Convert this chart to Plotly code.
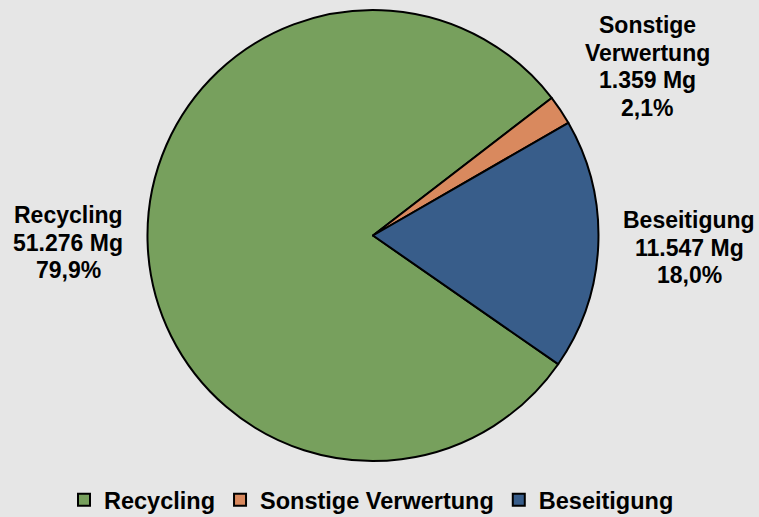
import plotly.graph_objects as go

labels = ["Recycling", "Sonstige Verwertung", "Beseitigung"]
values = [51276, 1359, 11547]
colors = ["#77A05D", "#D9895E", "#385D8A"]

total = sum(values)

def de_num(v):
    return f"{v:,}".replace(",", ".")

def de_pct(v):
    return f"{v * 100 / total:.1f}".replace(".", ",") + "%"

fig = go.Figure(go.Pie(
    labels=labels,
    values=values,
    sort=False,
    direction="clockwise",
    rotation=124.8,
    marker=dict(colors=colors, line=dict(color="black", width=2)),
    textinfo="none",
    hoverinfo="label+value+percent",
    domain=dict(x=[0.0914, 0.8914], y=[56 / 517, 507 / 517]),
))

# label block positions (pixels): x centre, y of first line centre
label_pos = [(68, 215), (647, 25), (689, 220)]
line_gap = 27.6
W, H = 759, 517
annotations = []
for lab, v, (px, py) in zip(labels, values, label_pos):
    lines = lab.split(" ") + [de_num(v) + " Mg", de_pct(v)]
    for i, ln in enumerate(lines):
        annotations.append(dict(
            text="<b>" + ln + "</b>", x=px / W, y=1 - (py + i * line_gap) / H,
            xref="paper", yref="paper", xanchor="center", yanchor="middle",
            showarrow=False,
            font=dict(size=23, color="black", family="Liberation Sans, Arial")))

fig.update_layout(
    width=W, height=H,
    margin=dict(l=0, r=0, t=0, b=0, autoexpand=False),
    paper_bgcolor="#E6E6E6",
    plot_bgcolor="#E6E6E6",
    font=dict(family="Liberation Sans, Arial", size=22, color="black"),
    annotations=annotations,
    showlegend=True,
    legend=dict(orientation="h", x=64 / W, xanchor="left", y=1 - 500 / H, yanchor="middle",
                bgcolor="rgba(0,0,0,0)", font=dict(size=23.5, weight="bold"),
                itemwidth=30, tracegroupgap=0),
)

fig.write_html("out.html", config={"displayModeBar": False},
               post_script="document.body.style.margin='0';document.body.style.padding='0';document.body.style.overflow='hidden';")
